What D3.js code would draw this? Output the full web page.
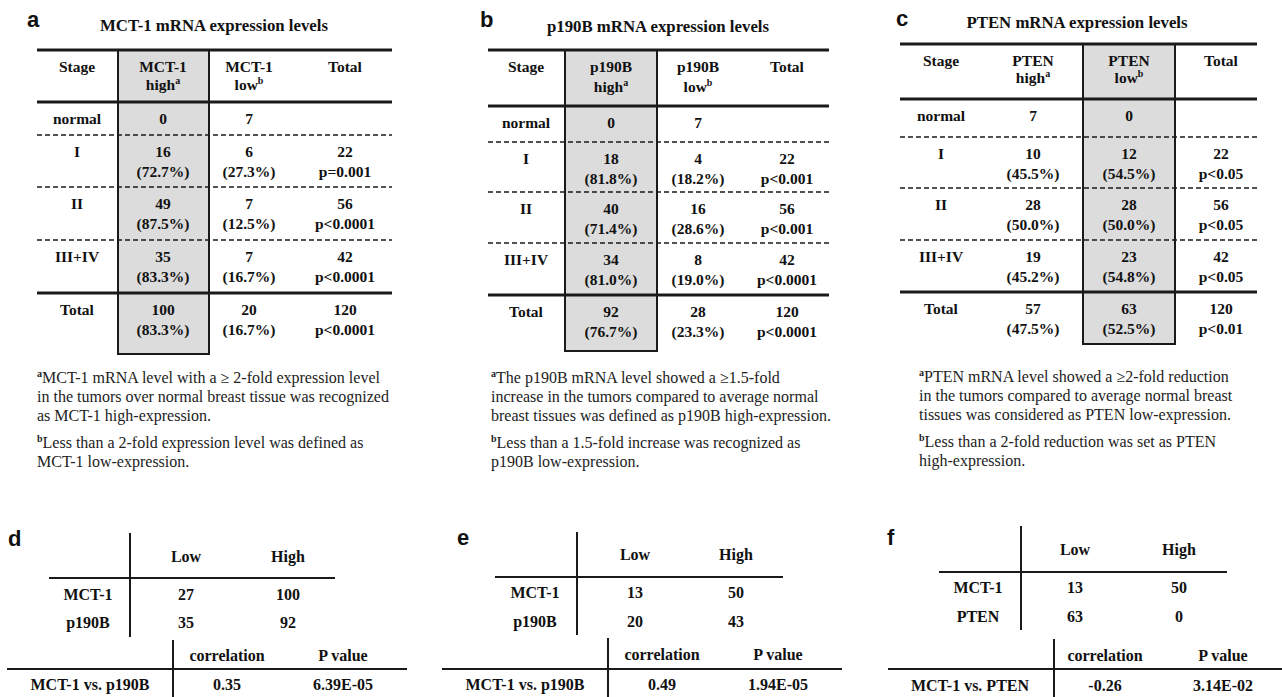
<!DOCTYPE html>
<html>
<head>
<meta charset="utf-8">
<script src="https://cdn.jsdelivr.net/npm/d3@7"></script>
<style>
  body { margin: 0; background: #fff; }
  svg { display: block; }
  text { font-family: "Liberation Serif", "Times New Roman", serif; fill: #111; }
</style>
</head>
<body>
<svg id="fig" width="1282" height="697"></svg>
<script>
// ---------- expression level tables (a–c) ----------
const stages = ["normal", "I", "II", "III+IV", "Total"];
const stageTotals = [null, 22, 56, 42, 120];

const mctHigh = [0, 16, 49, 35, 100];
const mctLow = [7, 6, 7, 7, 20];
const mctP = ["", "p=0.001", "p<0.0001", "p<0.0001", "p<0.0001"];

const p190bHigh = [0, 18, 40, 34, 92];
const p190bLow = [7, 4, 16, 8, 28];
const p190bP = ["", "p<0.001", "p<0.001", "p<0.0001", "p<0.0001"];

const ptenHigh = [7, 10, 28, 19, 57];
const ptenLow = [0, 12, 28, 23, 63];
const ptenP = ["", "p<0.05", "p<0.05", "p<0.05", "p<0.01"];

const mctNotes = [
  ["a", "MCT-1 mRNA level with a \u2265 2-fold expression level"],
  ["", "in the tumors over normal breast tissue was recognized"],
  ["", "as MCT-1 high-expression."],
  ["b", "Less than a 2-fold expression level was defined as"],
  ["", "MCT-1 low-expression."]
];
const p190bNotes = [
  ["a", "The p190B mRNA level showed a \u22651.5-fold"],
  ["", "increase in the tumors compared to average normal"],
  ["", "breast tissues was defined as p190B high-expression."],
  ["b", "Less than a 1.5-fold increase was recognized as"],
  ["", "p190B low-expression."]
];
const ptenNotes = [
  ["a", "PTEN mRNA level showed a \u22652-fold reduction"],
  ["", "in the tumors compared to average normal breast"],
  ["", "tissues was considered as PTEN low-expression."],
  ["b", "Less than a 2-fold reduction was set as PTEN"],
  ["", "high-expression."]
];

// ---------- correlation tables (d–f) ----------
const levelHeaders = ["Low", "High"];
const dGenes = ["MCT-1", "p190B"], dLow = [27, 35], dHigh = [100, 92];
const eGenes = ["MCT-1", "p190B"], eLow = [13, 20], eHigh = [50, 43];
const fGenes = ["MCT-1", "PTEN"],  fLow = [13, 63], fHigh = [50, 0];
const corrHeaders = ["correlation", "P value"];
const corrPairs = ["MCT-1 vs. p190B", "MCT-1 vs. p190B", "MCT-1 vs. PTEN"];
const corrValues = [0.35, 0.49, -0.26];
const corrPValues = ["6.39E-05", "1.94E-05", "3.14E-02"];

const svg = d3.select("#fig");
const INK = "#1a1a1a";
const pct = d3.format(".1f");

function panelLetter(ch, x, y) {
  svg.append("text").attr("x", x).attr("y", y)
    .style("font-family", "'Liberation Sans', Arial, sans-serif")
    .style("font-weight", "bold").style("font-size", "22px")
    .text(ch);
}

function line(g, x1, y1, x2, y2, w, dash) {
  const l = g.append("line").attr("x1", x1).attr("y1", y1).attr("x2", x2).attr("y2", y2)
    .attr("stroke", INK).attr("stroke-width", w);
  if (dash) l.attr("stroke-dasharray", dash);
  return l;
}

function exprTable(cfg) {
  const g = svg.append("g");
  const cols = ["stage", "high", "low", "total"];
  const x = d3.scaleOrdinal(cols, cfg.colX);
  const rowTop = d3.scaleOrdinal(stages, cfg.rowTops);

  panelLetter(cfg.letter, cfg.letterPos[0], cfg.letterPos[1]);
  g.append("text").attr("x", cfg.titlePos[0]).attr("y", cfg.titlePos[1])
    .attr("text-anchor", "middle").style("font-weight", "bold").style("font-size", "16.8px")
    .text(cfg.title);

  // highlighted column
  g.append("rect")
    .attr("x", cfg.shade[0]).attr("y", cfg.top)
    .attr("width", cfg.shade[1] - cfg.shade[0]).attr("height", cfg.bottom - cfg.top)
    .attr("fill", "#dcdcdc");

  // rules
  line(g, cfg.x0, cfg.top, cfg.x1, cfg.top, 3);
  line(g, cfg.x0, rowTop("normal"), cfg.x1, rowTop("normal"), 3);
  ["I", "II", "III+IV"].forEach(s => line(g, cfg.x0, rowTop(s), cfg.x1, rowTop(s), 1.6, "5,3"));
  line(g, cfg.x0, rowTop("Total"), cfg.x1, rowTop("Total"), 3);
  cfg.shade.forEach(sx => line(g, sx, cfg.top, sx, cfg.bottom, 2));
  line(g, cfg.shade[0] - 1, cfg.bottom, cfg.shade[1] + 1, cfg.bottom, 2);

  const txt = (xx, yy, s) => g.append("text").attr("x", xx).attr("y", yy)
    .attr("text-anchor", "middle").style("font-weight", "bold").style("font-size", "15.5px").text(s);

  // header
  const h1 = cfg.top + 22, h2 = cfg.top + cfg.hdr2;
  txt(x("stage"), h1, "Stage");
  txt(x("high"), h1, cfg.gene);
  txt(x("low"), h1, cfg.gene);
  txt(x("total"), h1, "Total");
  [["high", "high", "a"], ["low", "low", "b"]].forEach(([c, word, sup]) => {
    const t = txt(x(c), h2, "");
    t.append("tspan").text(word);
    t.append("tspan").attr("dy", -6).style("font-size", "10px").text(sup);
  });

  // body
  stages.forEach((s, i) => {
    const y1 = rowTop(s) + 22, y2 = y1 + 19.5;
    const tot = stageTotals[i];
    txt(x("stage"), y1, s);
    txt(x("high"), y1, cfg.high[i]);
    txt(x("low"), y1, cfg.low[i]);
    if (tot !== null) {
      txt(x("total"), y1, tot);
      txt(x("high"), y2, "(" + pct(cfg.high[i] / tot * 100) + "%)");
      txt(x("low"), y2, "(" + pct(cfg.low[i] / tot * 100) + "%)");
      txt(x("total"), y2, cfg.p[i]);
    }
  });

  // footnotes
  cfg.notes.forEach(([sup, s], i) => {
    const t = g.append("text").attr("x", cfg.noteX).attr("y", cfg.noteY[i])
      .style("font-size", "16px").style("fill", "#222");
    if (sup) {
      t.append("tspan").attr("dy", -6).style("font-size", "10px").style("font-weight", "bold").text(sup);
      t.append("tspan").attr("dy", 6).text(s);
    } else {
      t.text(s);
    }
  });
}

exprTable({
  letter: "a", letterPos: [27, 27], title: "MCT-1 mRNA expression levels", titlePos: [214, 31],
  gene: "MCT-1", high: mctHigh, low: mctLow, p: mctP, notes: mctNotes,
  top: 50, bottom: 354, x0: 37, x1: 392, shade: [118, 209], hdr2: 40,
  colX: [77, 163, 249, 345], rowTops: [102, 135, 187, 240, 293],
  noteX: 37, noteY: [383, 402, 421, 448, 467]
});
exprTable({
  letter: "b", letterPos: [480, 27], title: "p190B mRNA expression levels", titlePos: [658, 32],
  gene: "p190B", high: p190bHigh, low: p190bLow, p: p190bP, notes: p190bNotes,
  top: 50, bottom: 351, x0: 488, x1: 829, shade: [565, 657], hdr2: 42,
  colX: [526, 611, 698, 787], rowTops: [106, 142, 192, 243, 295],
  noteX: 491, noteY: [383, 402, 421, 448, 467]
});
exprTable({
  letter: "c", letterPos: [896, 26], title: "PTEN mRNA expression levels", titlePos: [1077, 28],
  gene: "PTEN", high: ptenHigh, low: ptenLow, p: ptenP, notes: ptenNotes,
  top: 44, bottom: 344, x0: 900, x1: 1257, shade: [1083, 1175], hdr2: 39,
  colX: [941, 1033, 1129, 1221], rowTops: [99, 137, 188, 240, 292],
  noteX: 919, noteY: [382, 401, 420, 447, 466]
});

function crossTable(cfg, genes, low, high, k) {
  const g = svg.append("g");
  panelLetter(cfg.letter, cfg.letterPos[0], cfg.letterPos[1]);
  const x = d3.scaleOrdinal(levelHeaders, cfg.colX);
  const y = d3.scaleOrdinal(genes, cfg.rowY);
  const cx = d3.scaleOrdinal(corrHeaders, cfg.corrColX);

  const txt = (xx, yy, s) => g.append("text").attr("x", xx).attr("y", yy)
    .attr("text-anchor", "middle").style("font-weight", "bold").style("font-size", "16px").text(s);

  // counts
  line(g, cfg.vLine, cfg.vY[0], cfg.vLine, cfg.vY[1], 2);
  line(g, cfg.hX[0], cfg.hLine, cfg.hX[1], cfg.hLine, 2);
  levelHeaders.forEach(h => txt(x(h), cfg.headerY, h));
  genes.forEach((gn, i) => {
    txt(cfg.labelX, y(gn), gn);
    txt(x("Low"), y(gn), low[i]);
    txt(x("High"), y(gn), high[i]);
  });

  // correlation
  line(g, cfg.cvLine, cfg.cvY[0], cfg.cvLine, cfg.cvY[1], 2);
  line(g, cfg.chX[0], cfg.chLine, cfg.chX[1], cfg.chLine, 2);
  corrHeaders.forEach(h => txt(cx(h), cfg.corrHeaderY, h));
  txt(cfg.pairX, cfg.corrRowY, corrPairs[k]);
  txt(cx("correlation"), cfg.corrRowY, corrValues[k].toFixed(2));
  txt(cx("P value"), cfg.corrRowY, corrPValues[k]);
}

crossTable({
  letter: "d", letterPos: [8, 546],
  vLine: 130, vY: [533, 637], hLine: 578, hX: [49, 335], headerY: 562,
  colX: [186, 288], labelX: 88, rowY: [600, 628],
  cvLine: 173, cvY: [640, 697], chLine: 669, chX: [7, 407], corrHeaderY: 661,
  corrColX: [227, 343], pairX: 90, corrRowY: 690
}, dGenes, dLow, dHigh, 0);
crossTable({
  letter: "e", letterPos: [457, 545],
  vLine: 577, vY: [532, 635], hLine: 577, hX: [495, 783], headerY: 560,
  colX: [635, 736], labelX: 535, rowY: [598, 627],
  cvLine: 608, cvY: [638, 697], chLine: 669, chX: [442, 842], corrHeaderY: 660,
  corrColX: [662, 778], pairX: 525, corrRowY: 690
}, eGenes, eLow, eHigh, 1);
crossTable({
  letter: "f", letterPos: [887, 545],
  vLine: 1021, vY: [526, 630], hLine: 572, hX: [939, 1227], headerY: 555,
  colX: [1075, 1179], labelX: 978, rowY: [593, 622],
  cvLine: 1054, cvY: [639, 697], chLine: 669, chX: [888, 1282], corrHeaderY: 661,
  corrColX: [1105, 1223], pairX: 970, corrRowY: 691
}, fGenes, fLow, fHigh, 2);
</script>
</body>
</html>
